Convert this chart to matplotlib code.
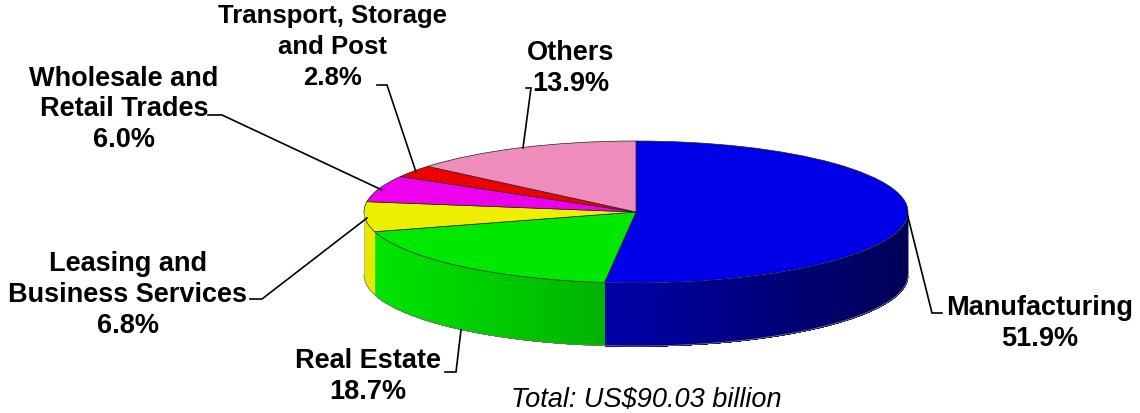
import numpy as np
import matplotlib
matplotlib.use('Agg')
import matplotlib.pyplot as plt

W, H = 1140, 413
CX, CY, RX, RY = 636, 212, 272, 71
DEPTH = 63 / RY

sectors = ['Manufacturing', 'Real Estate', 'Leasing and Business Services',
           'Wholesale and Retail Trades', 'Transport, Storage and Post', 'Others']
shares = [51.9, 18.7, 6.8, 6.0, 2.8, 13.9]
colors = ['#0000e8', '#00e800', '#eeee00', '#ee00ee', '#ee0000', '#ee8cbb']
total_label = 'Total: US$90.03 billion'

labels = ['Manufacturing\n51.9%', 'Real Estate\n18.7%', 'Leasing and\nBusiness Services\n6.8%',
          'Wholesale and\nRetail Trades\n6.0%', 'Transport, Storage\nand Post\n2.8%', 'Others\n13.9%']


def px(x, y):
    # reference pixels to pie units
    return (x - CX) / RX, (CY - y) / RY


def shade(color, x, dark):
    # wall gets darker towards the right
    rgb = np.array(matplotlib.colors.to_rgb(color))
    t = np.clip((x + 1) / 2, 0, 1)
    return tuple(rgb * np.clip(1 - dark[0] - (dark[1] - dark[0]) * t, 0, 1))


plt.rcParams['font.family'] = ['Liberation Sans', 'DejaVu Sans']
fig = plt.figure(figsize=(W / 100, H / 100), dpi=100)
ax = fig.add_axes([0, 0, 1, 1])

# front wall, clockwise angle from the top of the pie
edges = np.cumsum([0] + shares) / sum(shares) * 2 * np.pi
wall_dark = [(-0.01, 0.63), (0.0, 0.52), (0.03, 0.03)]
for i, dark in enumerate(wall_dark):
    a0 = max(edges[i], np.pi / 2)
    a1 = min(edges[i + 1], 3 * np.pi / 2)
    steps = np.linspace(a0, a1, 60)
    for s0, s1 in zip(steps[:-1], steps[1:]):
        # each strip runs on to the end of the slice, the next one paints over it
        th = np.linspace(s0, a1, 40)
        ax.fill_between(np.sin(th), np.cos(th), np.cos(th) - DEPTH,
                        color=shade(colors[i], np.sin(0.5 * (s0 + s1)), dark), lw=0)

th = np.linspace(np.pi / 2, 3 * np.pi / 2, 200)
ax.plot(np.sin(th), np.cos(th) - DEPTH, color='#777777', lw=0.6)
ax.plot([1, 1], [0, -DEPTH], color='#aaaaaa', lw=0.5)
ax.plot([-1, -1], [0, -DEPTH], color='#aaaaaa', lw=0.5)

ax.pie(shares, colors=colors, startangle=90, counterclock=False, radius=1,
       wedgeprops={'edgecolor': '#222222', 'linewidth': 0.5})
ax.set_aspect('auto')
ax.set_xlim(-CX / RX, (W - CX) / RX)
ax.set_ylim((CY - H) / RY, CY / RY)

leaders = [
    [(907, 213), (932, 313), (942, 313)],
    [(461, 330), (456, 372), (445, 372)],
    [(367, 218), (262, 299), (250, 299)],
    [(382, 190), (222, 115), (208, 115)],
    [(416, 172), (387, 85), (377, 85)],
    [(523, 148), (531, 88), (526, 88)],
]
for pts in leaders:
    xy = np.array([px(*p) for p in pts])
    ax.plot(xy[:, 0], xy[:, 1], color='black', lw=1.2, solid_joinstyle='miter')

label_pos = [(1040, 323.5), (368, 376.5), (128, 295), (124, 109.5), (333, 47), (571, 68.5)]
label_size = [19.5, 19.5, 19.5, 19.5, 18.5, 19.5]
label_space = [1.24, 1.24, 1.24, 1.24, 1.35, 1.24]
for text, (x, y), size, sp in zip(labels, label_pos, label_size, label_space):
    ax.text(*px(x, y), text, ha='center', va='center', fontsize=size, fontweight='bold',
            linespacing=sp, color='black')

ax.text(*px(646, 400), total_label, ha='center', va='center', fontsize=19.5, style='italic')

fig.savefig('out.png', dpi=100)
